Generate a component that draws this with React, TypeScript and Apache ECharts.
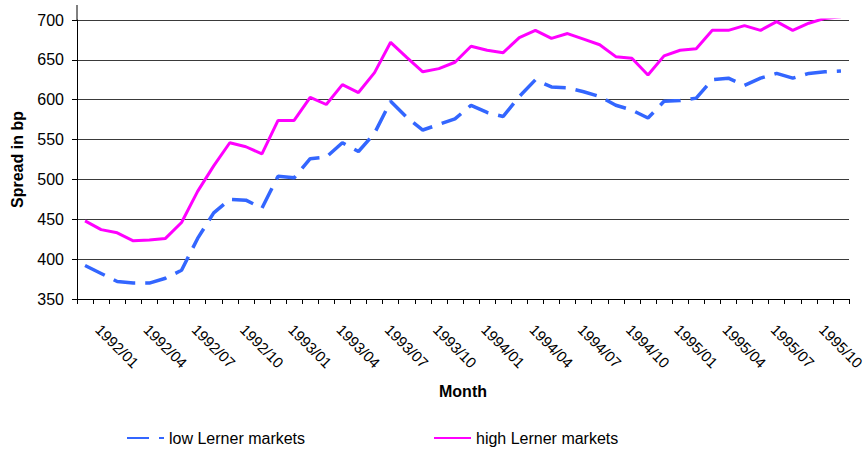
import React, { useEffect, useRef } from "react";
import * as echarts from "echarts";

// Monthly spreads, 1991/11 through 1995/10
const months: string[] = [];
for (let y = 1991; y <= 1995; y++) {
  for (let m = 1; m <= 12; m++) {
    if ((y === 1991 && m < 11) || (y === 1995 && m > 10)) continue;
    months.push(`${y}/${String(m).padStart(2, "0")}`);
  }
}

const lowLerner = [
  392, 382, 372, 370, 370, 376, 386, 426, 458, 475, 474, 464,
  504, 502, 526, 528, 546, 535, 558, 598, 578, 562, 569, 576,
  593, 584, 579, 604, 625, 616, 615, 610, 604, 593, 587, 577,
  598, 599, 602, 625, 627, 618, 627, 633, 627, 633, 635, 636,
];

const highLerner = [
  448, 437, 433, 423, 424, 426, 446, 485, 517, 546, 541, 532,
  574, 574, 603, 594, 619, 609, 634, 672, 653, 635, 639, 647,
  667, 662, 659, 678, 687, 677, 683, 676, 669, 654, 652, 631,
  655, 662, 664, 687, 687, 693, 687, 698, 687, 696, 702, 704,
];

const yTicks = { min: 350, max: 700, interval: 50 };

export default function App() {
  const ref = useRef<HTMLDivElement>(null);

  useEffect(() => {
    if (!ref.current) return;
    const chart = echarts.init(ref.current, null, { renderer: "svg" });
    const font = "Liberation Sans, Arial, sans-serif";
    const legendBase = {
      top: 430,
      padding: 0,
      itemWidth: 37,
      itemHeight: 14,
      itemGap: 5,
      itemStyle: { opacity: 0 },
      textStyle: { fontSize: 16, color: "#000", fontFamily: font },
    };
    chart.setOption({
      animation: false,
      backgroundColor: "#fff",
      textStyle: { fontFamily: font },
      grid: { left: 77, right: 19, top: 20, bottom: 155, containLabel: false },
      legend: [
        { ...legendBase, left: 126, data: ["low Lerner markets"] },
        { ...legendBase, left: 433, data: ["high Lerner markets"] },
      ],
      xAxis: {
        type: "category",
        data: months,
        boundaryGap: true,
        name: "Month",
        nameLocation: "middle",
        nameGap: 84,
        nameTextStyle: { fontWeight: "bold", fontSize: 16, color: "#000" },
        axisLine: { lineStyle: { color: "#000", width: 1 } },
        axisTick: { show: true, interval: 0, length: 5, lineStyle: { color: "#000" } },
        axisLabel: {
          interval: (i: number) => (i - 2) % 3 === 0,
          rotate: -45,
          align: "center",
          verticalAlign: "middle",
          margin: 47,
          fontSize: 15,
          color: "#000",
        },
        splitLine: { show: false },
      },
      yAxis: {
        type: "value",
        min: yTicks.min,
        max: yTicks.max,
        interval: yTicks.interval,
        name: "Spread in bp",
        nameLocation: "middle",
        nameGap: 52,
        nameTextStyle: { fontWeight: "bold", fontSize: 16, color: "#000" },
        axisLine: { show: true, lineStyle: { color: "#000", width: 1 } },
        axisTick: { show: true, length: 5, lineStyle: { color: "#000" } },
        axisLabel: { fontSize: 16, color: "#000", margin: 13 },
        splitLine: { show: true, lineStyle: { color: "#3a3a3a", width: 1 } },
      },
      graphic: [
        {
          type: "line",
          shape: { x1: 77, y1: 5, x2: 77, y2: 20 },
          style: { stroke: "#000", lineWidth: 1 },
          silent: true,
        },
      ],
      series: [
        {
          name: "low Lerner markets",
          type: "line",
          data: lowLerner,
          symbol: "none",
          color: "#3366FF",
          lineStyle: { color: "#3366FF", width: 3.5, type: [22, 10] },
        },
        {
          name: "high Lerner markets",
          type: "line",
          data: highLerner,
          symbol: "none",
          color: "#FF00FF",
          lineStyle: { color: "#FF00FF", width: 3 },
        },
      ],
    });
    return () => chart.dispose();
  }, []);

  return (
    <div
      ref={ref}
      style={{ position: "fixed", left: 0, top: 0, width: 868, height: 454 }}
    />
  );
}
